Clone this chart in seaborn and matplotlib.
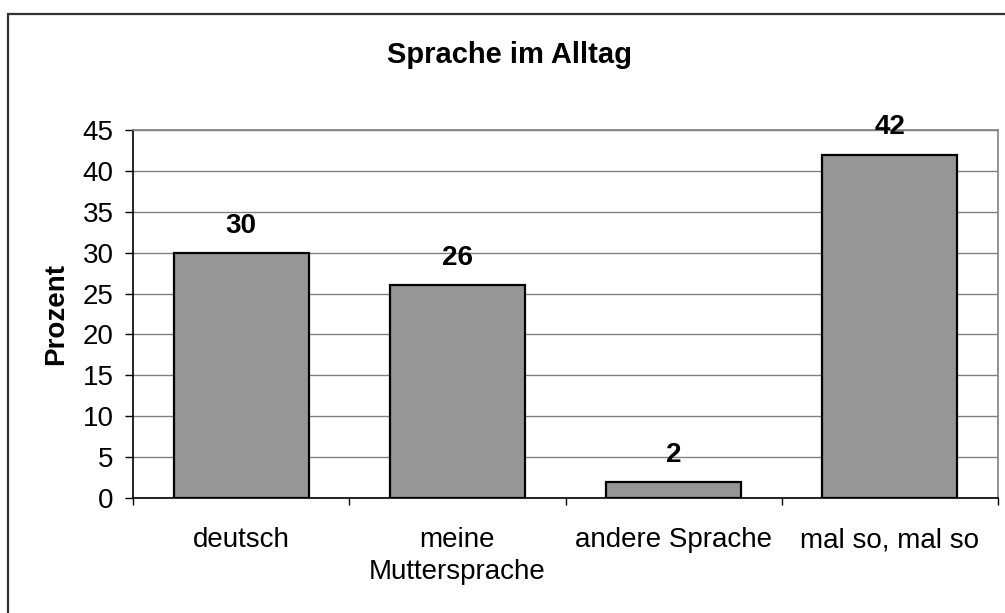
import pandas as pd
import seaborn as sns
import matplotlib.pyplot as plt
from matplotlib.patches import Rectangle
from matplotlib.ticker import FixedLocator

# Daten
kategorien = ['deutsch', 'meine\nMuttersprache', 'andere Sprache', 'mal so, mal so']
prozent = [30, 26, 2, 42]

df = pd.DataFrame({'Kategorie': kategorien, 'Prozent': prozent})

sns.set_style('white')
plt.rcParams['font.family'] = ['Liberation Sans', 'DejaVu Sans']
plt.rcParams['text.color'] = 'black'
plt.rcParams['xtick.color'] = 'black'
plt.rcParams['ytick.color'] = 'black'
plt.rcParams['axes.labelcolor'] = 'black'

fig = plt.figure(figsize=(10.05, 6.13), dpi=100)
ax = fig.add_axes([133 / 1005, 1 - 498 / 613, (998 - 133) / 1005, (498 - 130) / 613])

sns.barplot(data=df, x='Kategorie', y='Prozent', color='#969696', width=0.625,
            edgecolor='black', linewidth=1.6, saturation=1, ax=ax, zorder=3)

ax.set_xlim(-0.5, 3.5)
ax.set_ylim(0, 45)
ax.set_yticks(range(0, 46, 5))
ax.yaxis.grid(True, color='#808080', linewidth=1.0, zorder=0)
ax.set_axisbelow(True)

for s in ['top', 'right']:
    ax.spines[s].set_color('#808080')
    ax.spines[s].set_linewidth(1.2)
for s in ['left', 'bottom']:
    ax.spines[s].set_color('black')
    ax.spines[s].set_linewidth(1.2)

ax.tick_params(axis='y', direction='out', length=6, width=1.0,
               pad=8, labelsize=20, left=True)
ax.set_xticks(range(len(kategorien)), kategorien, linespacing=1.3)
ax.tick_params(axis='x', which='major', length=0, pad=21, labelsize=20)
ax.xaxis.set_minor_locator(FixedLocator([-0.5, 0.5, 1.5, 2.5, 3.5]))
ax.tick_params(axis='x', which='minor', direction='out', length=5, width=1.0,
               bottom=True)

ax.set_xlabel('')
ax.set_ylabel('Prozent', fontsize=20, fontweight='bold', labelpad=10)

# Werte über den Balken
for i, v in enumerate(prozent):
    ax.annotate(str(v), (i, v), xytext=(0, 19.5), textcoords='offset points',
                ha='center', va='center', fontsize=20, fontweight='bold')

fig.text(509 / 1005, 1 - 55 / 613, 'Sprache im Alltag', ha='center', va='center',
         fontsize=21, fontweight='bold')

# Rahmen um das Diagramm
fig.patches.append(Rectangle((8 / 1005, -0.1), 1.2, 1 - 14 / 613 + 0.1,
                             transform=fig.transFigure, fill=False,
                             edgecolor='#333333', linewidth=1.6))

fig.savefig('out.png', dpi=100)
